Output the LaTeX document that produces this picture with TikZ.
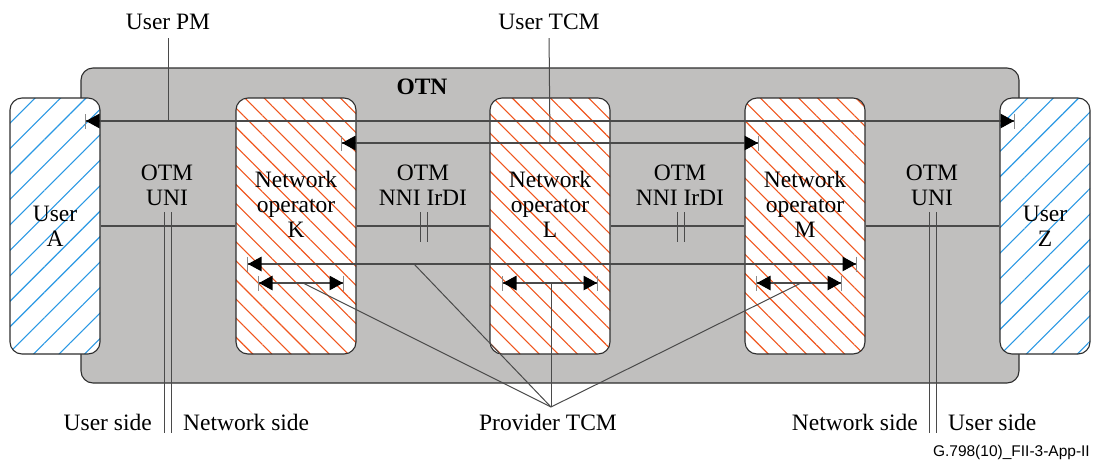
\documentclass[tikz,border=0pt]{standalone}
\usepackage{fontspec}
\setmainfont{Liberation Serif}
\setsansfont{Liberation Sans}
\usetikzlibrary{arrows.meta, patterns.meta, positioning}
\definecolor{otngray}{HTML}{C0BFBE}
\definecolor{userblue}{HTML}{2A98E4}
\definecolor{opred}{HTML}{F0561E}
\definecolor{linegray}{HTML}{4A4A4A}
\definecolor{edgegray}{HTML}{2E2E2E}
\definecolor{bargray}{HTML}{8A8A8A}
\tikzset{
  % dominio OTN
  otnbox/.style={draw=edgegray, line width=1.1pt, fill=otngray, rounded corners=12pt},
  % utente (tratteggio blu)
  userbox/.style={draw=edgegray, line width=1.1pt, rounded corners=12pt, inner sep=0pt,
    minimum width=90pt, minimum height=256pt, preaction={fill=white},
    pattern={Lines[angle=45, distance=18pt, line width=1.1pt]}, pattern color=userblue},
  % operatore di rete (tratteggio arancio)
  opbox/.style={draw=edgegray, line width=1.1pt, rounded corners=12pt, inner sep=0pt,
    minimum width=120pt, minimum height=256pt, preaction={fill=white},
    pattern={Lines[angle=-45, distance=13.5pt, line width=1.1pt]}, pattern color=opred},
  % testi
  lbl/.style={font=\fontsize{23.5}{25}\selectfont, align=center, inner sep=0pt},
  % collegamenti
  conn/.style={draw=linegray, line width=1.1pt},
  leader/.style={draw=linegray, line width=1pt},
  % frecce PM / TCM
  tcm/.style={conn,
    {Bar[width=15pt, line width=1pt, color=bargray]Triangle[length=13.5pt, width=14.5pt, color=black, fill=black]}-{Triangle[length=13.5pt, width=14.5pt, color=black, fill=black]Bar[width=15pt, line width=1pt, color=bargray]}},
}
\begin{document}
\begin{tikzpicture}[x=1pt, y=-1pt]
  \useasboundingbox (0,0) rectangle (1101,464);
  % dominio OTN
  \node[otnbox, minimum width=938pt, minimum height=315pt] (otn) at (550,225.5) {};
  \node[lbl, font=\fontsize{23.5}{25}\selectfont\bfseries] (otnlbl) at (422,87) {OTN};
  % utenti e operatori
  \node[userbox] (A) at (55,226) {};
  \node[opbox] (K) at (296,226) {};
  \node[opbox] (L) at (550,226) {};
  \node[opbox] (M) at (805,226) {};
  \node[userbox] (Z) at (1045,226) {};
  \node[lbl] (Atxt) at (A.center) {User\\A};
  \node[lbl] (Ktxt) at ([yshift=22pt]K.center) {Network\\operator\\K};
  \node[lbl] (Ltxt) at ([yshift=22pt]L.center) {Network\\operator\\L};
  \node[lbl] (Mtxt) at ([yshift=22pt]M.center) {Network\\operator\\M};
  \node[lbl] (Ztxt) at (Z.center) {User\\Z};
  % interfacce
  \node[lbl] (uniA) at (167,185) {OTM\\UNI};
  \node[lbl] (nniKL) at (423,185) {OTM\\NNI IrDI};
  \node[lbl] (nniLM) at (680,185) {OTM\\NNI IrDI};
  \node[lbl] (uniZ) at (932,185) {OTM\\UNI};
  % collegamento tra i domini
  \draw[conn] (A) -- (K);
  \draw[conn] (K) -- (L);
  \draw[conn] (L) -- (M);
  \draw[conn] (M) -- (Z);
  \draw[leader] (420,212) -- (420,242) (427,212) -- (427,242);
  \draw[leader] (677,212) -- (677,242) (684,212) -- (684,242);
  \draw[leader] (164,212) -- (164,433) (171,212) -- (171,433);
  \draw[leader] (929,212) -- (929,433) (936,212) -- (936,433);
  % lato utente / lato rete
  \node[lbl, anchor=east] (usA) at (152,422) {User side};
  \node[lbl, anchor=west] (nsA) at (183,422) {Network side};
  \node[lbl, anchor=east] (nsZ) at (918,422) {Network side};
  \node[lbl, anchor=west] (usZ) at (948,422) {User side};
  % User PM
  \node[lbl] (upm) at (168,22) {User PM};
  \coordinate (pmL) at (85,121);
  \coordinate (pmR) at (1015,121);
  \coordinate (pmT) at (168,121);
  \draw[tcm] (pmL) -- (pmR);
  \draw[leader, shorten <=8pt] (upm.south) -- (pmT);
  % User TCM
  \node[lbl] (utcm) at (549,22) {User TCM};
  \coordinate (utL) at (341,143);
  \coordinate (utR) at (759,143);
  \coordinate (utT) at (550,143);
  \draw[tcm] (utL) -- (utR);
  \draw[leader, shorten <=8pt] (utcm.south) -- (utT);
  % Provider TCM
  \draw[tcm] (247,264) coordinate (ptL) -- (857,264) coordinate (ptR);
  \draw[tcm] (258,283) coordinate (kL) -- (344,283) coordinate (kR);
  \draw[tcm] (502,283) coordinate (lL) -- (598,283) coordinate (lR);
  \draw[tcm] (756,283) coordinate (mL) -- (842,283) coordinate (mR);
  \node[lbl] (ptcm) at (548,422) {Provider TCM};
  \coordinate (pconv) at (551,407);
  \coordinate (pK) at (303,283);
  \coordinate (pLong) at (414,264);
  \coordinate (pL) at (551,283);
  \coordinate (pM) at (801,283);
  \draw[leader] (pK) -- (pconv);
  \draw[leader] (pLong) -- (pconv);
  \draw[leader] (pL) -- (pconv);
  \draw[leader] (pM) -- (pconv);
  % codice figura
  \node[font=\sffamily\fontsize{15.5}{17}\selectfont, anchor=east, inner sep=0pt] (figid) at (1090,452) {G.798(10)\_FII-3-App-II};
\end{tikzpicture}
\end{document}
